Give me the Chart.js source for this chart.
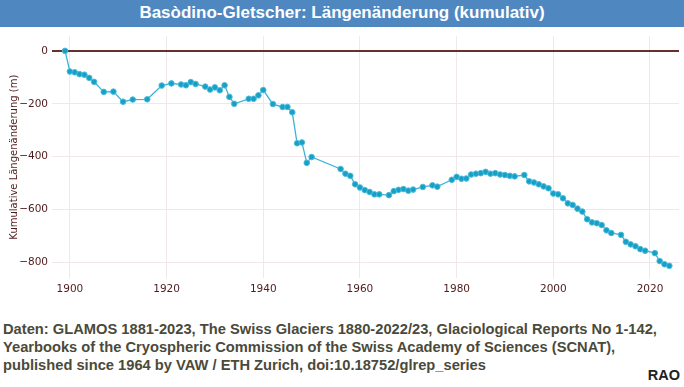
<!DOCTYPE html>
<html>
<head>
<meta charset="utf-8">
<script src="https://cdn.jsdelivr.net/npm/chart.js@4"></script>
<style>
  html, body { margin: 0; padding: 0; background: #fff; }
  body { width: 684px; height: 387px; position: relative; overflow: hidden; }
  #titleBar {
    position: absolute; left: 0; top: 0; width: 684px; height: 27px;
    background: #4f87c1; color: #fff;
    font: bold 17px "Liberation Sans", Arial, sans-serif;
    text-align: center; line-height: 26px;
  }
  #chartBox { position: absolute; left: 0; top: 26px; width: 684px; height: 280px; }
  #source {
    position: absolute; left: 3px; top: 320px;
    font: bold 14.7px "Liberation Sans", Arial, sans-serif;
    line-height: 18px; color: #4a4a3a;
  }
  #rao {
    position: absolute; right: 4px; top: 367px;
    font: bold 14.5px "Liberation Sans", Arial, sans-serif; color: #222;
  }
</style>
</head>
<body>
<div id="titleBar">Basòdino-Gletscher: Längenänderung (kumulativ)</div>
<div id="chartBox"><canvas id="chart" width="684" height="280"></canvas></div>
<div id="source">Daten: GLAMOS 1881-2023, The Swiss Glaciers 1880-2022/23, Glaciological Reports No 1-142,<br>Yearbooks of the Cryospheric Commission of the Swiss Academy of Sciences (SCNAT),<br>published since 1964 by VAW / ETH Zurich, doi:10.18752/glrep_series</div>
<div id="rao">RAO</div>

<script>
// Data
const years = [
  1899, 1900, 1901, 1902, 1903, 1904, 1905, 1907, 1909, 1911, 1913, 1916, 1919,
  1921, 1923, 1924, 1925, 1926, 1928, 1929, 1930, 1931, 1932, 1933, 1934, 1937,
  1938, 1939, 1940, 1942, 1944, 1945, 1946, 1947, 1948, 1949, 1950, 1956, 1957,
  1958, 1959, 1960, 1961, 1962, 1963, 1964, 1966, 1967, 1968, 1969, 1970, 1971,
  1973, 1975, 1976, 1979, 1980, 1981, 1982, 1983, 1984, 1985, 1986, 1987, 1988,
  1989, 1990, 1991, 1992, 1994, 1995, 1996, 1997, 1998, 1999, 2000, 2001, 2002,
  2003, 2004, 2005, 2006, 2007, 2008, 2009, 2010, 2011, 2012, 2014, 2015, 2016,
  2017, 2018, 2019, 2021, 2022, 2023, 2024
];
const cumLength = [
  0, -78, -81, -88, -90, -102, -117, -155, -154, -192, -184, -183, -131,
  -123, -127, -130, -118, -125, -135, -146, -138, -149, -130, -174, -200, -181,
  -181, -168, -148, -201, -212, -212, -232, -349, -346, -423, -401, -446, -464,
  -472, -504, -516, -526, -533, -542, -542, -545, -530, -525, -522, -528, -524,
  -514, -508, -513, -487, -476, -483, -482, -467, -464, -462, -457, -464, -462,
  -467, -469, -472, -474, -469, -493, -497, -504, -512, -519, -539, -542, -557,
  -576, -582, -596, -607, -636, -648, -651, -658, -678, -688, -695, -721, -731,
  -738, -749, -755, -764, -794, -806, -812
];
const xTicks = [1900, 1920, 1940, 1960, 1980, 2000, 2020];
const yTicks = [0, -200, -400, -600, -800];

const AXIS_COLOR = '#4f1c1c';
const GRID_COLOR = '#efe7e9';
const ZERO_COLOR = '#643030';
const tickFont = { family: "'DejaVu Sans', Verdana, sans-serif", size: 10.5 };

const points = years.map((y, i) => ({ x: y, y: cumLength[i] }));

new Chart(document.getElementById('chart'), {
  type: 'line',
  data: {
    datasets: [{
      data: points,
      borderColor: '#3ab3d5',
      borderWidth: 1.3,
      pointBackgroundColor: '#169fc7',
      pointBorderColor: '#4cbbd9',
      pointBorderWidth: 1,
      pointRadius: 2.8,
      tension: 0,
    }],
  },
  options: {
    responsive: false,
    devicePixelRatio: 1,
    animation: false,
    layout: { padding: { top: 7, left: 0, right: 0, bottom: 0 } },
    plugins: { legend: { display: false }, tooltip: { enabled: false } },
    scales: {
      x: {
        type: 'linear',
        min: 1896.3,
        max: 2026,
        afterFit: (scale) => { scale.height = 28; },
        afterBuildTicks: (scale) => { scale.ticks = xTicks.map(v => ({ value: v })); },
        border: { display: false },
        grid: { color: GRID_COLOR, lineWidth: 1, drawTicks: false },
        ticks: { color: AXIS_COLOR, font: tickFont, padding: 5, maxRotation: 0,
                 callback: (v) => String(v) },
      },
      y: {
        min: -858,
        max: 55,
        afterFit: (scale) => { scale.width = 52; },
        afterBuildTicks: (scale) => { scale.ticks = yTicks.map(v => ({ value: v })); },
        border: { display: false },
        grid: {
          drawTicks: false,
          color: (ctx) => ctx.tick && ctx.tick.value === 0 ? ZERO_COLOR : GRID_COLOR,
          lineWidth: (ctx) => ctx.tick && ctx.tick.value === 0 ? 2 : 1,
        },
        ticks: { color: AXIS_COLOR, font: tickFont, padding: 4,
                 callback: (v) => v < 0 ? '\u2212' + Math.abs(v) : String(v) },
        title: {
          display: true,
          text: 'Kumulative Längenänderung (m)',
          color: AXIS_COLOR,
          font: { family: "'DejaVu Sans', Verdana, sans-serif", size: 10 },
          padding: { top: 8, bottom: 0 },
        },
      },
    },
  },
});
</script>
</body>
</html>
